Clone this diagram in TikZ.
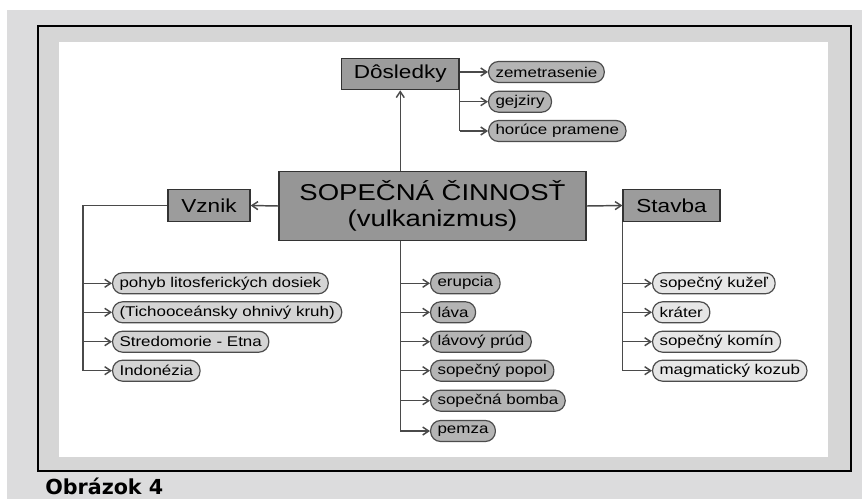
\documentclass[tikz,border=0pt]{standalone}
\usepackage{fontspec}
\setmainfont[FakeStretch=1.2]{Liberation Sans}
\newfontfamily\captionfont{DejaVu Sans}
\usetikzlibrary{arrows.meta}

\definecolor{bggray}{HTML}{DCDCDD}
\definecolor{bandgray}{HTML}{D6D6D6}
\definecolor{boxgray}{HTML}{9C9C9C}
\definecolor{coregray}{HTML}{969696}
\definecolor{linegray}{HTML}{4A4A4A}
\definecolor{pillmid}{HTML}{B4B4B4}
\definecolor{pilllight}{HTML}{D4D4D4}
\definecolor{pillpale}{HTML}{E6E6E6}

\tikzset{
  topicbox/.style={draw=black!80, line width=0.9pt, fill=boxgray, inner sep=0pt,
    minimum height=23.5pt, font=\fontsize{14.1}{16}\selectfont},
  pill/.style={draw=black!70, line width=0.9pt, rounded corners=7.5pt, inner xsep=5.2pt,
    inner ysep=0pt, minimum height=15.75pt, anchor=west, font=\fontsize{10.6}{12}\selectfont},
  trunk/.style={draw=linegray, line width=1.1pt},
  branch/.style={draw=linegray, line width=1.1pt, -{Straight Barb[length=4.5pt,width=6pt]}}
}

\begin{document}
\begin{tikzpicture}[x=0.75pt,y=0.75pt,yscale=-1,xscale=1]
\useasboundingbox (0,0) rectangle (862,499);

%Shape: Background
\fill[bggray] (7,10) rectangle (862,499);
%Shape: Frame
\draw[black, line width=0.9pt, fill=bandgray] (38,26) rectangle (851,471);
\fill[white] (59,42) rectangle (828,457);

% Text Node
\draw (432.5,206) node (core) [draw=black!80, line width=0.9pt, fill=coregray, minimum width=230.25pt, minimum height=51.75pt, inner sep=0pt, align=center, font=\fontsize{17.2}{19.9}\selectfont] {SOPEČNÁ ČINNOSŤ\\(vulkanizmus)};
% Text Node
\draw (400.25,74) node (conseq) [topicbox, minimum width=88pt] {Dôsledky};
% Text Node
\draw (209,205.5) node (origin) [topicbox, minimum width=61.5pt] {Vznik};
% Text Node
\draw (671.5,205.5) node (struct) [topicbox, minimum width=72.75pt] {Stavba};

% Pills: Dôsledky
\draw (488,72) node (d1) [pill, fill=pillmid] {zemetrasenie};
\draw (488,101.7) node (d2) [pill, fill=pillmid] {gejziry};
\draw (488,131) node (d3) [pill, fill=pillmid] {horúce pramene};

% Pills: Vznik
\draw (112,283.3) node (v1) [pill, fill=pilllight] {pohyb litosferických dosiek};
\draw (112,312.3) node (v2) [pill, fill=pilllight] {(Tichooceánsky ohnivý kruh)};
\draw (112,341.7) node (v3) [pill, fill=pilllight] {Stredomorie - Etna};
\draw (112,370.7) node (v4) [pill, fill=pilllight] {Indonézia};

% Pills: center
\draw (430,283.3) node (c1) [pill, fill=pillmid] {erupcia};
\draw (430,312.3) node (c2) [pill, fill=pillmid] {láva};
\draw (430,341.7) node (c3) [pill, fill=pillmid] {lávový prúd};
\draw (430,370.7) node (c4) [pill, fill=pillmid] {sopečný popol};
\draw (430,400.7) node (c5) [pill, fill=pillmid] {sopečná bomba};
\draw (430,431) node (c6) [pill, fill=pillmid] {pemza};

% Pills: Stavba
\draw (652,283.3) node (s1) [pill, fill=pillpale] {sopečný kužeľ};
\draw (652,312.3) node (s2) [pill, fill=pillpale] {kráter};
\draw (652,341.7) node (s3) [pill, fill=pillpale] {sopečný komín};
\draw (652,370.7) node (s4) [pill, fill=pillpale] {magmatický kozub};

\coordinate (vbus) at (83,0);
\coordinate (cbus) at (400.25,0);

% Connectors from the core
\draw[branch] (cbus |- core.north) -- (conseq.south);
\draw[branch] (core.west) -- (origin.east);
\draw[branch] (core.east) -- (struct.west);

% Dôsledky
\draw[trunk] (conseq.south east) -- (conseq.south east |- d3.west);
\foreach \i in {1,2,3}
  \draw[branch] (conseq.south east |- d\i.west) -- (d\i.west);

% Vznik
\draw[trunk] (origin.west) -| (vbus |- v4.west);
\foreach \i in {1,...,4}
  \draw[branch] (vbus |- v\i.west) -- (v\i.west);

% center
\draw[trunk] (cbus |- core.south) -- (cbus |- c6.west);
\foreach \i in {1,...,6}
  \draw[branch] (cbus |- c\i.west) -- (c\i.west);

% Stavba
\draw[trunk] (struct.south west) -- (struct.south west |- s4.west);
\foreach \i in {1,...,4}
  \draw[branch] (struct.south west |- s\i.west) -- (s\i.west);

% Text Node
\draw (45,494) node (caption) [anchor=base west, inner sep=0pt, font=\captionfont\bfseries\fontsize{15.5}{18}\selectfont] {Obrázok 4};

\end{tikzpicture}
\end{document}
